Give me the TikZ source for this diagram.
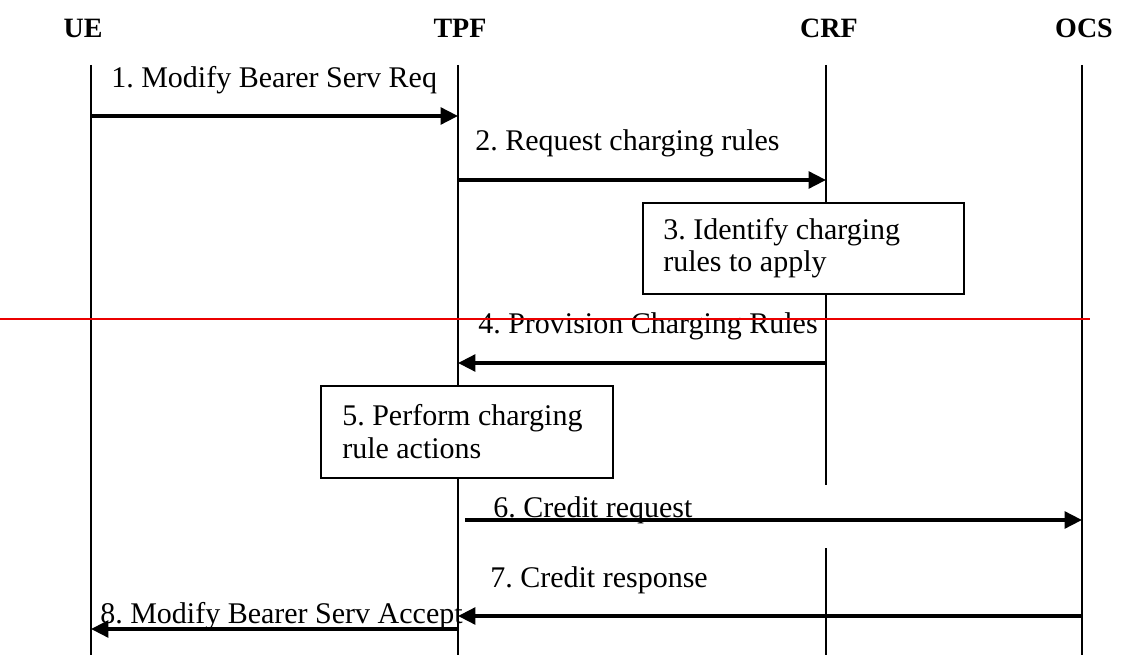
\documentclass[tikz,border=0pt]{standalone}
\usepackage{fontspec}
\setmainfont{Liberation Serif}
\usetikzlibrary{arrows.meta}
\definecolor{cutred}{RGB}{235,0,0}
\frenchspacing
\begin{document}
\begin{tikzpicture}[x=0.75pt,y=-0.75pt,
  lbl/.style={font=\fontsize{22.5pt}{27pt}\selectfont, inner sep=0pt, anchor=base west},
  hdr/.style={font=\fontsize{21pt}{25pt}\selectfont\bfseries, inner sep=0pt, anchor=base},
  life/.style={line width=1.3pt},
  msg/.style={line width=2.6pt, -{Triangle[length=13pt,width=12.5pt]}},
  box/.style={draw, line width=1.4pt, fill=white, inner sep=0pt, anchor=north west},
  cut/.style={draw=cutred, line width=1.6pt}]
\useasboundingbox (0,0) rectangle (1123,655);
% headers
\node[hdr] (UE)  at (83,38)   {UE};
\node[hdr] (TPF) at (460,38)  {TPF};
\node[hdr] (CRF) at (829,38)  {CRF};
\node[hdr] (OCS) at (1084,38) {OCS};
% lifeline end points
\coordinate (ueT)  at (91,65);   \coordinate (ueB)  at (91,655);
\coordinate (tpfT) at (458,65);  \coordinate (tpfB) at (458,655);
\coordinate (crfT) at (826,65);  \coordinate (crfM) at (826,485);
\coordinate (crfN) at (826,548); \coordinate (crfB) at (826,655);
\coordinate (ocsT) at (1082,65); \coordinate (ocsB) at (1082,655);
\draw[life] (ueT) -- (ueB);
\draw[life] (tpfT) -- (tpfB);
\draw[life] (crfT) -- (crfM);
\draw[life] (crfN) -- (crfB);
\draw[life] (ocsT) -- (ocsB);
% boxes
\node[box, minimum width=240.75pt, minimum height=68.25pt] (b3) at (642,202) {};
\node[lbl] (t3a) at (663,240) {3. Identify charging};
\node[lbl] (t3b) at (663,272) {rules to apply};
\node[box, minimum width=219pt, minimum height=69pt] (b5) at (320,385) {};
\node[lbl] (t5a) at (342,425) {5. Perform charging};
\node[lbl] (t5b) at (342,458) {rule actions};
% message end points
\coordinate (m1s) at (91,116);   \coordinate (m1e) at (458,116);
\coordinate (m2s) at (458,180);  \coordinate (m2e) at (826,180);
\coordinate (m4s) at (826,363);  \coordinate (m4e) at (458,363);
\coordinate (m6s) at (465,520);  \coordinate (m6e) at (1082,520);
\coordinate (m7s) at (1082,616); \coordinate (m7e) at (458,616);
\coordinate (m8s) at (458,629);  \coordinate (m8e) at (91,629);
% messages
\draw[msg] (m1s) -- (m1e);
\node[lbl] (l1) at (111,88) {1. Modify Bearer Serv Req};
\draw[msg] (m2s) -- (m2e);
\node[lbl] (l2) at (475,151) {2. Request charging rules};
\draw[msg] (m4s) -- (m4e);
\node[lbl] (l4) at (478,334) {4. Provision Charging Rules};
\draw[msg] (m6s) -- (m6e);
\node[lbl] (l6) at (493,517) {6. Credit request};
\draw[msg] (m7s) -- (m7e);
\node[lbl] (l7) at (490,587) {7. Credit response};
\draw[msg] (m8s) -- (m8e);
\node[lbl] (l8) at (100,623) {8. Modify Bearer Serv Accept};
% red cut line
\coordinate (cutL) at (0,319); \coordinate (cutR) at (1090,319);
\draw[cut] (cutL) -- (cutR);
\end{tikzpicture}
\end{document}
